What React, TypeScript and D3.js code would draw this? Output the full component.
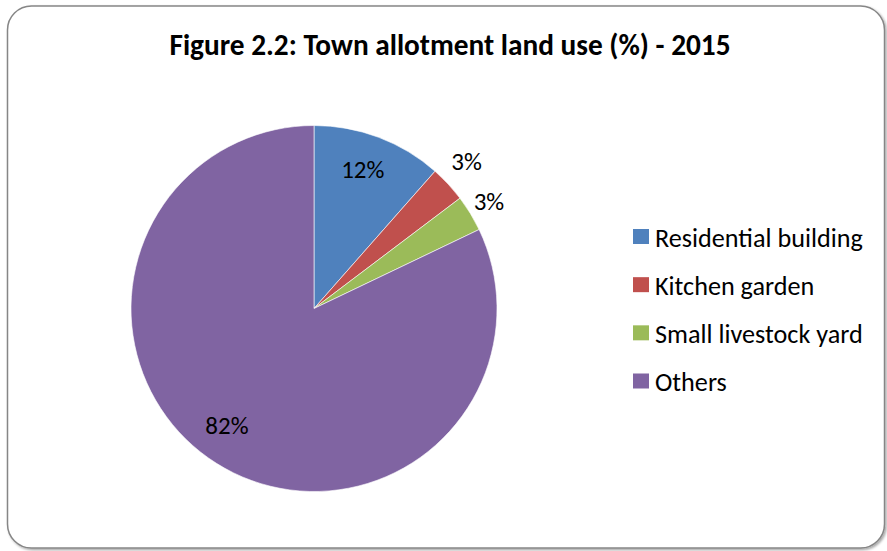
import React from 'react';
import * as d3 from 'd3';

const categories = ['Residential building', 'Kitchen garden', 'Small livestock yard', 'Others'];
const values = [11.5, 3.2, 3.2, 82.1];
const labelText = ['12%', '3%', '3%', '82%'];
const labelOutside = [false, true, true, false];
const colors = ['#4F81BD', '#C0504D', '#9BBB59', '#8064A2'];

const W = 887;
const H = 551;
const FONT = "Carlito, Calibri, Lato, 'Open Sans', sans-serif";

// small manual nudges like Excel's best-fit placement
const labelNudge = [[-3, -2], [5, -10], [3, -2], [-9, -7]];

export default function App() {
  const cx = 314;
  const cy = 308.5;
  const r = 183;

  const pie = d3.pie<number>().value(d => d).sort(null);
  const arcs = pie(values);
  const arc = d3.arc<d3.PieArcDatum<number>>().innerRadius(0).outerRadius(r);

  const labelPos = (a: d3.PieArcDatum<number>, i: number) => {
    const mid = (a.startAngle + a.endAngle) / 2;
    const lr = labelOutside[i] ? r * 1.1 : r * 0.8;
    return [Math.sin(mid) * lr + labelNudge[i][0], -Math.cos(mid) * lr + labelNudge[i][1]];
  };

  const legendY = d3.scalePoint<string>().domain(categories).range([236.5, 381]);

  return (
    <div style={{ position: 'fixed', left: 0, top: 0, width: W, height: H, background: '#fff' }}>
      <svg width={W} height={H} style={{ display: 'block' }}>
        <defs>
          <filter id="sh" x="-5%" y="-5%" width="110%" height="110%">
            <feDropShadow dx="1.5" dy="1.5" stdDeviation="1" floodColor="#000" floodOpacity="0.35" />
          </filter>
        </defs>
        <rect x={7.5} y={6} width={877} height={542} rx={24} ry={24}
          fill="#fff" stroke="#868686" strokeWidth={1.5} filter="url(#sh)" />

        <text x={450} y={55} textAnchor="middle" fontFamily={FONT} fontWeight={700}
          fontSize={29.3} fill="#000">Figure 2.2: Town allotment land use (%) - 2015</text>

        <g transform={`translate(${cx},${cy})`}>
          {arcs.map((a, i) => (
            <path key={i} d={arc(a) || ''} fill={colors[i]} stroke="#fff" strokeWidth={0.6} />
          ))}
          {arcs.map((a, i) => {
            const [x, y] = labelPos(a, i);
            return (
              <text key={'l' + i} x={x} y={y} textAnchor="middle" dominantBaseline="central"
                fontFamily={FONT} fontSize={25} fill="#000">{labelText[i]}</text>
            );
          })}
        </g>

        <g>
          {categories.map((c, i) => (
            <g key={c} transform={`translate(633,${legendY(c)})`}>
              <rect x={0} y={-7.5} width={16} height={15} fill={colors[i]} />
              <text x={22} y={1} dominantBaseline="central" fontFamily={FONT} fontSize={26.2} fill="#000">{c}</text>
            </g>
          ))}
        </g>
      </svg>
    </div>
  );
}
